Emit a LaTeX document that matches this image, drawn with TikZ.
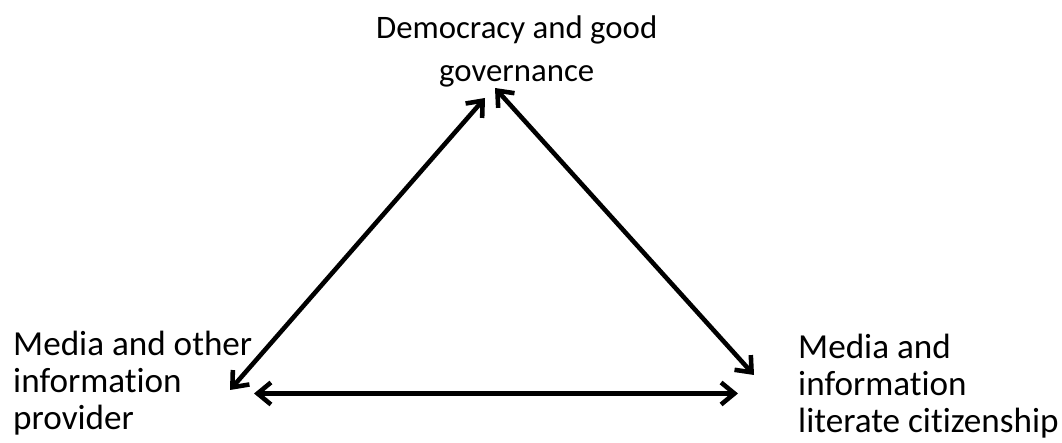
\documentclass[tikz,border=0pt]{standalone}
\usepackage{fontspec}
\setmainfont{Carlito}[Ligatures=NoCommon]
\usetikzlibrary{positioning}
\usetikzlibrary{arrows.meta}
\tikzset{>={Straight Barb[length=0.4cm,width=0.66cm]}}
\tikzset{lbl/.style={inner sep=0pt, font=\fontsize{30}{32}\selectfont}}
\tikzset{link/.style={<->, line width=3.9pt}}

\begin{document}
\begin{tikzpicture}
\useasboundingbox (0,0) rectangle (31.86,13.29);

\node[lbl, align=center, anchor=base, font=\fontsize{28}{32}\selectfont] (D) at (15.5, 10.83) {Democracy and good\\[5pt]governance};
\node[lbl, align=left, anchor=base west] (M) at (0.39, 0.39) {Media and other\\information\\provider};
\node[lbl, align=left, anchor=base west] (C) at (23.94, 0.3) {Media and\\information\\literate citizenship};

\coordinate (Dl) at (14.55, 10.35);
\coordinate (Dr) at (14.85, 10.65);
\coordinate (Mu) at (6.9, 1.59);
\coordinate (Mr) at (7.62, 1.485);
\coordinate (Cu) at (22.62, 2.04);
\coordinate (Cl) at (22.14, 1.485);

\draw[link] (Mu) -- (Dl);
\draw[link] (Dr) -- (Cu);
\draw[link] (Mr) -- (Cl);
\end{tikzpicture}
\end{document}
